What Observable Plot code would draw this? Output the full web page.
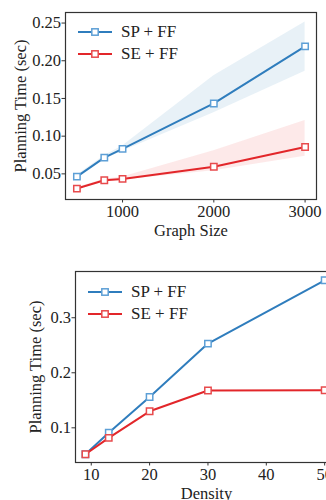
<!DOCTYPE html>
<html>
<head>
<meta charset="utf-8">
<script src="https://cdn.jsdelivr.net/npm/d3@7"></script>
<script src="https://cdn.jsdelivr.net/npm/@observablehq/plot@0.6"></script>
<style>
  html, body { margin: 0; padding: 0; background: #fff; overflow: hidden; }
  #wrap { position: relative; width: 326px; height: 500px; overflow: hidden; font-family: "Liberation Serif", serif; }
  .panel { position: absolute; left: 0; max-width: none !important; }
  .legend { position: absolute; font-size: 17px; color: #222; }
  .row { display: flex; align-items: center; height: 22px; }
  .row svg { margin-right: 9px; }
</style>
</head>
<body>
<div id="wrap"></div>
<script>
// ---- Data: top panel (Graph Size) ----
const sizes = [500, 800, 1000, 2000, 3000];
const spSize = [0.0464, 0.0716, 0.0831, 0.1434, 0.219];
const seSize = [0.0305, 0.0416, 0.0433, 0.0595, 0.0857];
const spSizeLo = [0.045, 0.069, 0.080, 0.131, 0.186];
const spSizeHi = [0.048, 0.074, 0.087, 0.180, 0.2515];
const seSizeLo = [0.029, 0.040, 0.042, 0.054, 0.0735];
const seSizeHi = [0.032, 0.043, 0.046, 0.0805, 0.1208];
const sizeTicks = [1000, 2000, 3000];
const sizeYTicks = [0.05, 0.10, 0.15, 0.20, 0.25];

// ---- Data: bottom panel (Density) ----
const densities = [9, 13, 20, 30, 50];
const spDen = [0.052, 0.091, 0.156, 0.253, 0.368];
const seDen = [0.052, 0.0818, 0.130, 0.1678, 0.1683];
const denTicks = [10, 20, 30, 40, 50];
const denYTicks = [0.1, 0.2, 0.3];

const seriesNames = ["SP + FF", "SE + FF"];
const lineColors = ["#2f7dbd", "#e2262a"];
const markColors = ["#5d9fd6", "#e84a4c"];
const bandColors = ["#1f77b4", "#e8262b"];

const font = {fontFamily: "'Liberation Serif', serif", fontSize: "16.5px", color: "#222", background: "#fff", overflow: "visible", maxWidth: "none"};

const topData = sizes.map((x, i) => ({x, sp: spSize[i], se: seSize[i], spLo: spSizeLo[i], spHi: spSizeHi[i], seLo: seSizeLo[i], seHi: seSizeHi[i]}));
const botData = densities.map((x, i) => ({x, sp: spDen[i], se: seDen[i]}));

function seriesMarks(data, withBands) {
  const m = [];
  if (withBands) {
    m.push(Plot.areaY(data, {x: "x", y1: "spLo", y2: "spHi", fill: bandColors[0], fillOpacity: 0.1}));
    m.push(Plot.areaY(data, {x: "x", y1: "seLo", y2: "seHi", fill: bandColors[1], fillOpacity: 0.1}));
  }
  m.push(Plot.line(data, {x: "x", y: "sp", stroke: lineColors[0], strokeWidth: 2}));
  m.push(Plot.dot(data, {x: "x", y: "sp", symbol: "square", r: 3.6, fill: "white", stroke: markColors[0], strokeWidth: 1.5}));
  m.push(Plot.line(data, {x: "x", y: "se", stroke: lineColors[1], strokeWidth: 2}));
  m.push(Plot.dot(data, {x: "x", y: "se", symbol: "square", r: 3.6, fill: "white", stroke: markColors[1], strokeWidth: 1.5}));
  return m;
}

const axisCommon = {tickSize: 3.5, stroke: "#333", labelAnchor: "center", labelArrow: "none", fontSize: 16.5};

const topChart = Plot.plot({
  width: 326, height: 240,
  marginLeft: 65, marginRight: 10, marginTop: 12, marginBottom: 41,
  style: font,
  x: {domain: [375, 3125]},
  y: {domain: [0.016, 0.264]},
  marks: [
    ...seriesMarks(topData, true),
    Plot.frame({stroke: "#333", strokeWidth: 1.2}),
    Plot.axisX({...axisCommon, ticks: sizeTicks, tickFormat: "d", tickPadding: 2, label: "Graph Size", labelOffset: 36}),
    Plot.axisY({...axisCommon, ticks: sizeYTicks, tickFormat: ".2f", tickPadding: 1, label: "Planning Time (sec)", labelOffset: 51})
  ]
});

const bottomChart = Plot.plot({
  width: 347, height: 260,
  marginLeft: 75, marginRight: 10, marginTop: 31, marginBottom: 38,
  style: font,
  x: {domain: [7.3, 52.2]},
  y: {domain: [0.037, 0.384]},
  marks: [
    ...seriesMarks(botData, false),
    Plot.frame({stroke: "#333", strokeWidth: 1.2}),
    Plot.axisX({...axisCommon, ticks: denTicks, tickFormat: "d", tickPadding: 2, label: "Density", labelOffset: 36}),
    Plot.axisY({...axisCommon, ticks: denYTicks, tickFormat: ".1f", tickPadding: 1, label: "Planning Time (sec)", labelOffset: 46})
  ]
});

const wrap = document.getElementById("wrap");
for (const [svg, t] of [[topChart, 0], [bottomChart, 240]]) {
  svg.classList.add("panel");
  svg.style.top = t + "px";
  svg.style.maxWidth = "none";
  wrap.appendChild(svg);
}

function legend(left, topPx) {
  const div = document.createElement("div");
  div.className = "legend";
  div.style.left = left + "px";
  div.style.top = topPx + "px";
  seriesNames.forEach((name, i) => {
    const row = document.createElement("div");
    row.className = "row";
    row.innerHTML = `<svg width="34" height="12"><line x1="0" x2="34" y1="6" y2="6" stroke="${lineColors[i]}" stroke-width="2"/><rect x="13.8" y="2.8" width="6.4" height="6.4" fill="white" stroke="${markColors[i]}" stroke-width="1.5"/></svg><span>${name}</span>`;
    div.appendChild(row);
  });
  wrap.appendChild(div);
}
legend(78, 21);
legend(88, 281);
</script>
</body>
</html>
